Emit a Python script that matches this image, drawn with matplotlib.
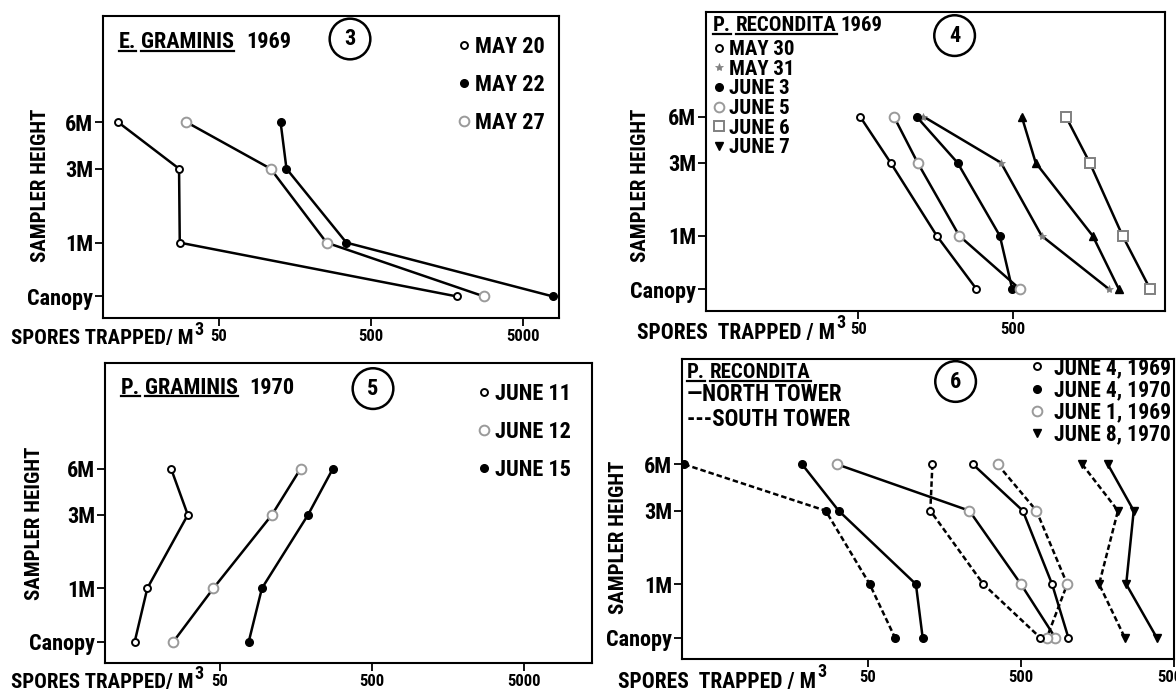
import matplotlib
matplotlib.use('Agg')
import matplotlib.pyplot as plt
from matplotlib.lines import Line2D
from matplotlib.ticker import NullLocator, FixedLocator
from matplotlib import font_manager as fm

# ---- pick a condensed bold face if one is installed ----
NARROW = None
STRETCH = 'normal'
_prefs = ['Liberation Sans Narrow', 'Roboto Condensed', 'DejaVu Sans Condensed',
          'Open Sans Condensed', 'Noto Sans Condensed', 'Arial Narrow']
_entries = fm.fontManager.ttflist
for cand in _prefs:
    if any(e.name == cand for e in _entries):
        NARROW = cand
        break
if NARROW is None:
    for e in _entries:
        if str(e.stretch) in ('condensed', 'semi-condensed', 'extra-condensed') and \
                e.name in ('DejaVu Sans', 'Roboto', 'Noto Sans', 'Open Sans', 'Liberation Sans'):
            NARROW = e.name
            STRETCH = 'condensed'
            break
if NARROW is None:
    NARROW = 'DejaVu Sans'
    K = 0.78
else:
    K = 1.0

plt.rcParams['font.family'] = [NARROW, 'DejaVu Sans']
plt.rcParams['font.weight'] = 'bold'
plt.rcParams['font.stretch'] = STRETCH

W, H = 1176, 693

# ---------------- data ----------------
heights = [6, 3, 1, 0.45]            # sampler heights (canopy drawn at ~0.45 m on the log axis)
height_labels = ['6M', '3M', '1M', 'Canopy']
x_ticks = [50, 500, 5000]
x_tick_labels = ['50', '500', '5000']

# Panel 3: E. graminis 1969
p3_labels = ['MAY 20', 'MAY 22', 'MAY 27']
p3_may20 = [10.9, 27.5, 27.8, 1845]
p3_may22 = [128, 140, 347, 7910]
p3_may27 = [30.7, 110, 257, 2787]

# Panel 4: P. recondita 1969
p4_labels = ['MAY 30', 'MAY 31', 'JUNE 3', 'JUNE 5', 'JUNE 6', 'JUNE 7']
p4_may30 = [51.4, 81, 161, 290]
p4_may31 = [132, 418, 766, 2080]
p4_june3 = [119, 219, 411, 494]
p4_june5 = [85, 121, 225, 553]
p4_june6 = [1097, 1564, 2550, 3840]
p4_june7 = [569, 700, 1636, 2410]

# Panel 5: P. graminis 1970
p5_labels = ['JUNE 11', 'JUNE 12', 'JUNE 15']
p5_june11 = [23.9, 30.8, 16.7, 13.8]
p5_june12 = [170, 110, 45.4, 24.8]
p5_june15 = [277, 190, 94.6, 77.5]

# Panel 6: P. recondita, north (solid) / south (dashed) tower
p6_labels = ['JUNE 4, 1969', 'JUNE 4, 1970', 'JUNE 1, 1969', 'JUNE 8, 1970']
p6_north_jun4_69 = [243, 514, 799, 1020]
p6_south_jun4_69 = [132, 128, 284, 667]
p6_north_jun4_70 = [18.6, 32.2, 103, 114]
p6_south_jun4_70 = [3.16, 26.5, 51.4, 75.1]
p6_north_jun1_69 = [31.5, 230, 500, 837]
p6_south_jun1_69 = [352, 631, 1003, 739]
p6_north_jun8_70 = [1848, 2728, 2436, 3853]
p6_south_jun8_70 = [1257, 2152, 1621, 2383]

# ---------------- styles ----------------
GREY = '#9a9a9a'
open_small = dict(marker='o', ms=5, mfc='white', mec='black', mew=1.4)
filled = dict(marker='o', ms=5.5, mfc='black', mec='black', mew=1)
grey_open = dict(marker='o', ms=7, mfc='white', mec=GREY, mew=1.4)
grey_star = dict(marker='*', ms=6, mfc='#808080', mec='#808080', mew=0.5)
grey_square = dict(marker='s', ms=7, mfc='white', mec='#808080', mew=1.4)
tri_up = dict(marker='^', ms=6, mfc='black', mec='black')
tri_down = dict(marker='v', ms=6, mfc='black', mec='black')
LW = 1.8
SOLID = dict(color='black', lw=LW, ls='-')
DASHED = dict(color='black', lw=LW, ls=(0, (2.2, 1.2)))

fig = plt.figure(figsize=(W / 100, H / 100), dpi=100)
fig.patch.set_facecolor('white')


def fx(px):
    return px / W


def fy(py):
    return 1 - py / H


def make_axes(left, top, right, bottom, xlim):
    ax = fig.add_axes([fx(left), fy(bottom), (right - left) / W, (bottom - top) / H])
    ax.set_xscale('log')
    ax.set_yscale('log')
    ax.set_xlim(*xlim)
    ax.set_ylim(0.325, 29)
    ax.xaxis.set_major_locator(FixedLocator(x_ticks))
    ax.xaxis.set_minor_locator(NullLocator())
    ax.yaxis.set_major_locator(FixedLocator(heights))
    ax.yaxis.set_minor_locator(NullLocator())
    ax.set_xticklabels(x_tick_labels)
    ax.set_yticklabels(height_labels)
    ax.tick_params(axis='both', direction='out', length=6, width=1.3, color='black')
    ax.tick_params(axis='x', labelsize=12 * K, pad=2)
    ax.tick_params(axis='y', labelsize=16 * K, pad=1)
    for s in ax.spines.values():
        s.set_linewidth(1.5)
        s.set_color('black')
    return ax


def series(ax, vals, mstyle, lstyle=SOLID):
    ax.plot(vals, heights, **lstyle, **mstyle, zorder=3)


def seq_text(x, y_base, pieces):
    """pieces: (text, underline, gap_before_px, dy_px, size)"""
    r = fig.canvas.get_renderer()
    cur = x
    for s, ul, gap, dy, sz in pieces:
        cur += gap
        t = fig.text(fx(cur), fy(y_base - dy), s, fontsize=sz * K, fontweight='bold',
                     ha='left', va='baseline')
        bb = t.get_window_extent(renderer=r)
        if ul:
            yu = y_base + 2.5
            fig.add_artist(Line2D([fx(bb.x0), fx(bb.x1)], [fy(yu), fy(yu)],
                                  transform=fig.transFigure, color='black', lw=1.6))
        cur = bb.x1


def circ_num(x, y, s):
    fig.text(fx(x), fy(y), s, fontsize=16 * K, fontweight='bold', ha='center', va='center',
             bbox=dict(boxstyle='circle,pad=%.2f' % (0.42 / K), fc='white', ec='black', lw=1.8))


def legend(ax, handles, labels, x, y, size, spacing, tpad):
    lg = ax.legend(handles, labels, loc='upper left', bbox_to_anchor=(fx(x), fy(y)),
                   bbox_transform=fig.transFigure, frameon=False,
                   handlelength=0.7, handletextpad=tpad, labelspacing=spacing,
                   borderpad=0, borderaxespad=0, prop=dict(weight='bold', size=size * K))
    return lg


def H_(style):
    return Line2D([], [], ls='none', **style)


# ---------------- panel 3 ----------------
ax3 = make_axes(102.7, 16, 559.3, 318.3, (8.65, 8730))
series(ax3, p3_may20, open_small)
series(ax3, p3_may22, filled)
series(ax3, p3_may27, grey_open)
legend(ax3, [H_(open_small), H_(filled), H_(grey_open)], p3_labels, 456, 36, 16, 0.72, 0.17)
seq_text(119, 48.5, [('E.', True, 0, 0, 16), ('GRAMINIS', True, 5, 0, 16), ('1969', False, 12, 0, 16)])
circ_num(350, 39, '3')
fig.text(fx(40), fy(185), 'SAMPLER HEIGHT', rotation=90, ha='center', va='center', fontsize=15 * K)
seq_text(11, 344, [('SPORES TRAPPED/ M', False, 0, 0, 15), ('3', False, 1, 9, 13)])

# ---------------- panel 4 ----------------
ax4 = make_axes(706, 11.7, 1165, 310.7, (5.2, 4790))
series(ax4, p4_may30, open_small)
series(ax4, p4_may31, grey_star)
series(ax4, p4_june3, filled)
series(ax4, p4_june5, grey_open)
series(ax4, p4_june6, grey_square)
series(ax4, p4_june7, tri_up)
legend(ax4, [H_(open_small), H_(grey_star), H_(filled), H_(grey_open), H_(grey_square), H_(tri_down)],
       p4_labels, 712, 40, 15, 0.03, 0.1)
seq_text(713, 31, [('P.', True, 0, 0, 15), ('RECONDITA', True, 5, 0, 15), ('1969', False, 4, 0, 15)])
circ_num(954.6, 35.6, '4')
fig.text(fx(641), fy(185), 'SAMPLER HEIGHT', rotation=90, ha='center', va='center', fontsize=15 * K)
seq_text(637, 339, [('SPORES  TRAPPED / M', False, 0, 0, 15.5), ('3', False, 1, 11, 13)])

# ---------------- panel 5 ----------------
ax5 = make_axes(105, 363.3, 592, 663.3, (8.8, 13960))
series(ax5, p5_june11, open_small)
series(ax5, p5_june12, grey_open)
series(ax5, p5_june15, filled)
legend(ax5, [H_(open_small), H_(grey_open), H_(filled)], p5_labels, 476, 383, 16, 0.72, 0.17)
seq_text(120.6, 393.5, [('P.', True, 0, 0, 16), ('GRAMINIS', True, 5, 0, 16), ('1970', False, 12, 0, 16)])
circ_num(373, 388.6, '5')
fig.text(fx(35), fy(523), 'SAMPLER HEIGHT', rotation=90, ha='center', va='center', fontsize=15 * K)
seq_text(11, 688, [('SPORES TRAPPED/ M', False, 0, 0, 15), ('3', False, 1, 9, 13)])

# ---------------- panel 6 ----------------
ax6 = make_axes(681.7, 359, 1174, 659.3, (3.04, 5000))
series(ax6, p6_south_jun4_70, filled, DASHED)
series(ax6, p6_north_jun4_70, filled, SOLID)
series(ax6, p6_north_jun1_69, grey_open, SOLID)
series(ax6, p6_south_jun1_69, grey_open, DASHED)
series(ax6, p6_north_jun4_69, open_small, SOLID)
series(ax6, p6_south_jun4_69, open_small, DASHED)
series(ax6, p6_south_jun8_70, tri_down, DASHED)
series(ax6, p6_north_jun8_70, tri_down, SOLID)
legend(ax6, [H_(open_small), H_(filled), H_(grey_open), H_(tri_down)], p6_labels, 1029, 357, 15.5, 0.01, 0.45)
seq_text(687, 378, [('P.', True, 0, 0, 15), ('RECONDITA', True, 5, 0, 15)])
seq_text(687, 401, [('\u2014NORTH TOWER', False, 0, 0, 16.5)])
seq_text(687, 426, [('---SOUTH TOWER', False, 0, 0, 16.5)])
circ_num(955.6, 381.5, '6')
fig.text(fx(618), fy(537), 'SAMPLER HEIGHT', rotation=90, ha='center', va='center', fontsize=15 * K)
seq_text(618, 688, [('SPORES  TRAPPED / M', False, 0, 0, 15.5), ('3', False, 1, 11, 13)])

fig.savefig('out.png', dpi=100, facecolor='white')
